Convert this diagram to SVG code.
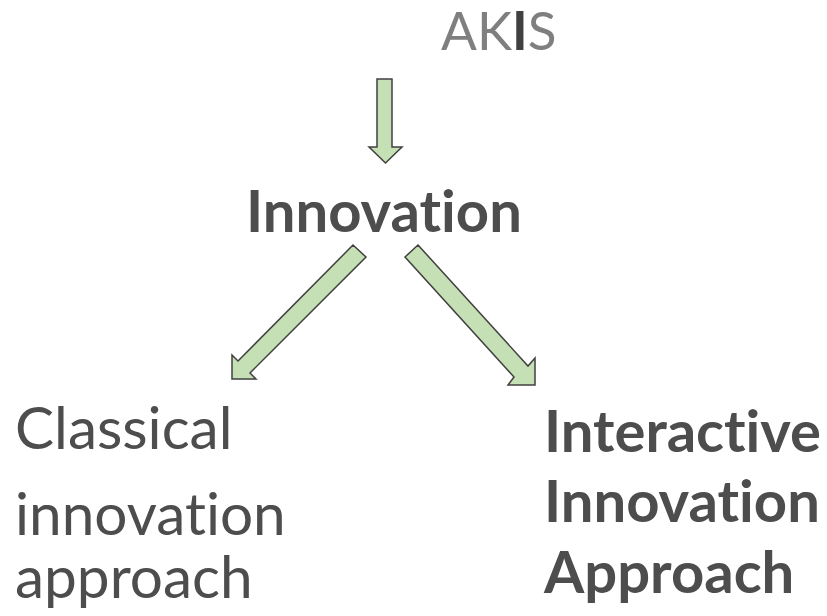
<svg xmlns="http://www.w3.org/2000/svg" width="827" height="616" viewBox="0 0 827 616">
<style>
.t{font-family:Lato,"Open Sans","Liberation Sans",sans-serif;fill:#4d4d4d;font-variant-ligatures:none;font-feature-settings:"liga" 0}
.b{font-weight:bold}
.arr{fill:#c5e0b4;stroke:#404040;stroke-width:1.5;stroke-linejoin:miter}
</style>
<rect width="827" height="616" fill="#ffffff"/>
<g id="akis">
<text class="t" x="441" y="50" font-size="53" style="fill:#7f7f7f">AK<tspan style="fill:#404040;font-weight:bold">I</tspan>S</text>
</g>
<g id="innovation">
<text class="t b" x="246" y="232" font-size="58">Innovation</text>
</g>
<g id="classical">
<text class="t" x="15" y="449" font-size="58.5">Classical</text>
<text class="t" x="15" y="535" font-size="58.5">innovation</text>
<text class="t" x="15" y="598" font-size="58.5">approach</text>
</g>
<g id="interactive">
<text class="t b" x="544" y="452" font-size="58">Interactive</text>
<text class="t b" x="544" y="522" font-size="58">Innovation</text>
<text class="t b" x="544" y="593" font-size="58">Approach</text>
</g>
<g id="connectors">
<polygon class="arr" points="377,79 392,79 392,147 402,147 385.5,163 369,147 377,147"/>
<polygon class="arr" points="353,245 366,257 250,373 256,379 232,379 232,355 238,361"/>
<polygon class="arr" points="418,245 528,366 535,358 535,385 508,385 514,377 405,257"/>
</g>
</svg>
